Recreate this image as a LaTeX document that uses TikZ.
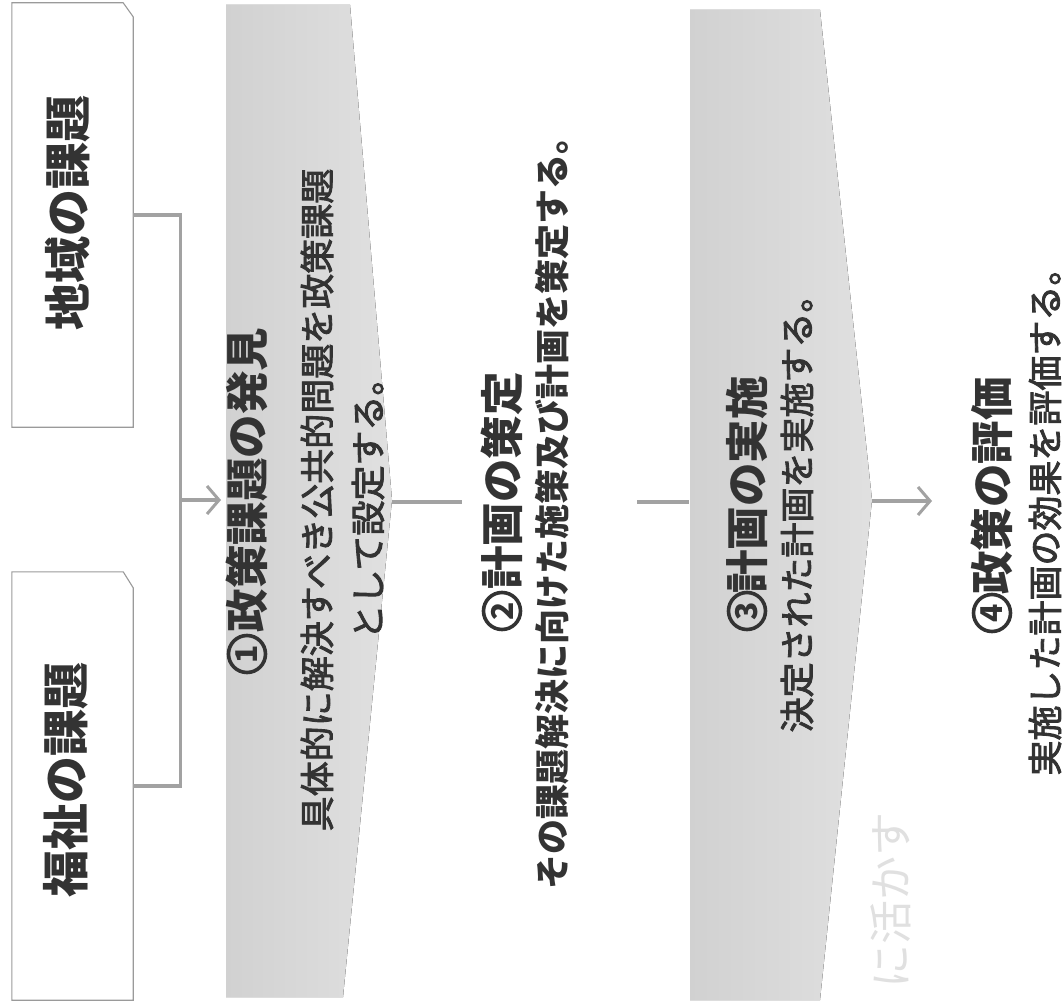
\documentclass[tikz,border=0pt]{standalone}
\usepackage{fontspec}
\newfontfamily\jp{Noto Sans CJK JP}
\newfontfamily\jpm[FakeBold=2.5]{Noto Sans CJK JP}
\usetikzlibrary{arrows.meta}
\definecolor{ink}{HTML}{333333}
\definecolor{linegray}{HTML}{A2A2A2}
\definecolor{boxgray}{HTML}{9A9A9A}
\begin{document}
\begin{tikzpicture}[x=1pt,y=-1pt,
  boxnode/.style={draw=none, inner sep=0, minimum width=121pt},
  boxline/.style={draw=boxgray, line width=1.1pt, fill=white},
  boxtext/.style={rotate=90, inner sep=0, text=ink, font=\jp\bfseries\fontsize{47}{47}\selectfont},
  title/.style={rotate=90, inner sep=0, text=ink, font=\jp\bfseries\fontsize{43.5}{43.5}\selectfont},
  numcirc/.style={rotate=90, circle, draw=ink, line width=3.6pt, minimum size=37pt, inner sep=0,
    text=ink, font=\jp\bfseries\fontsize{30}{30}\selectfont},
  body/.style={rotate=90, inner sep=0, text=ink, font=\jpm\fontsize{35}{35}\selectfont},
  bodybold/.style={rotate=90, inner sep=0, text=ink, font=\jp\bfseries\fontsize{35}{35}\selectfont},
  ghost/.style={rotate=90, inner sep=0, text=black!12, font=\jp\fontsize{44}{44}\selectfont},
  band/.style={left color=black!18, right color=black!12, draw=none},
  conn/.style={draw=linegray, line width=3.2pt},
  arrowconn/.style={conn, -{Straight Barb[length=12pt, width=28pt, line width=3pt]}}
]
\useasboundingbox (0,0) rectangle (1063,1006);
\fill[white] (0,0) rectangle (1063,1006);

% bands
\fill[band] (226,5) -- (350,5) -- (392,500) -- (343,997) -- (226,997) -- cycle;
\fill[band] (690,10) -- (820,10) -- (872,500) -- (820,1000) -- (690,1000) -- cycle;
\coordinate (tip1) at (392,502);
\coordinate (b1w) at (226,500);
\coordinate (tip2) at (872,501);
\coordinate (b2w) at (689,502);

% left boxes
\node[boxnode, minimum height=424pt] (box1) at (72.5,215) {};
\node[boxnode, minimum height=428pt] (box2) at (72.5,786) {};
\draw[boxline] (box1.south west) -- (box1.north west) -- ([xshift=-10pt]box1.north east)
  -- ([yshift=-14pt]box1.north east) -- (box1.south east) -- cycle;
\draw[boxline] (box2.south west) -- (box2.north west) -- ([xshift=-10pt]box2.north east)
  -- ([yshift=-16pt]box2.north east) -- (box2.south east) -- cycle;
\node[boxtext] (box1t) at (68,213) {地域の課題};
\node[boxtext] (box2t) at (66,780) {福祉の課題};

% bracket and arrow into band 1
\draw[conn] (box1.east) -- ++(47,0) |- (box2.east);
\coordinate (brkmid) at (180,500);
\draw[arrowconn] (brkmid) -- ([xshift=-5pt]b1w);

% texts
\node[numcirc] (n1) at (247,654) {1};
\node[title] (t1) at (247,480) {政策課題の発見};
\node[body] (b1a) at (317,500) {具体的に解決すべき公共的問題を政策課題};
\node[body] (b1b) at (368,500) {として設定する。};

\node[numcirc] (n2) at (502,611) {2};
\node[title] (t2) at (502,481) {計画の策定};
\node[bodybold] (b2) at (552,504) {その課題解決に向けた施策及び計画を策定する。};

\node[numcirc] (n3) at (747,611) {3};
\node[title] (t3) at (747,485) {計画の実施};
\node[body] (b3) at (797,505) {決定された計画を実施する。};

\node[numcirc] (n4) at (992,613) {4};
\node[title] (t4) at (992,486) {政策の評価};
\node[body] (b4) at (1045,513) {実施した計画の効果を評価する。};

\node[ghost] (gh) at (891,900) {に活かす};

% connectors between stages
\coordinate (c2a) at (462,502);
\coordinate (c2b) at (637,502);
\coordinate (c4) at (932,501);
\draw[conn] (tip1) -- (c2a);
\draw[conn] (c2b) -- (b2w);
\draw[arrowconn] (tip2) -- (c4);
\end{tikzpicture}
\end{document}
